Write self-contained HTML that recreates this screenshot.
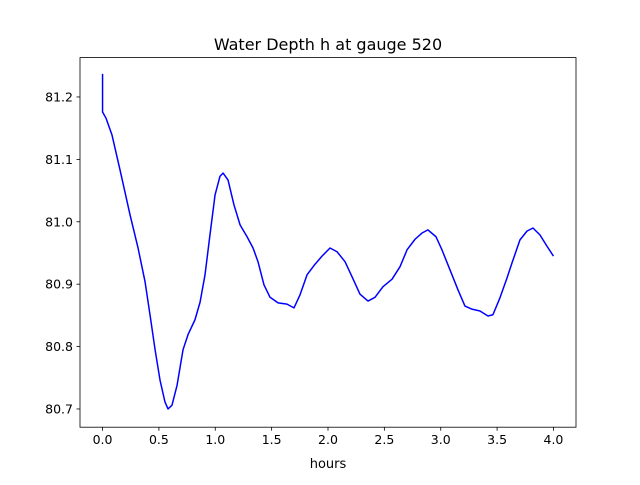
<!DOCTYPE html>
<html><head><meta charset="utf-8"><style>
html,body{margin:0;padding:0;background:#fff;}
svg text{font-family:"DejaVu Sans","Liberation Sans",sans-serif;fill:#000;}
</style></head><body>
<svg id="chart" width="640" height="480" xmlns="http://www.w3.org/2000/svg">
<rect width="640" height="480" fill="#fff"/>
<text x="328" y="50" font-size="16" text-anchor="middle">Water Depth h at gauge 520</text>
<g id="axes"></g>
<text x="328" y="468" font-size="13" text-anchor="middle">hours</text>
</svg>
<script>
const times=[0,0,0.031,0.084,0.155,0.244,0.315,0.377,0.421,0.466,0.510,0.554,0.581,0.616,0.661,0.714,0.758,0.820,0.865,0.909,0.953,0.998,1.042,1.069,1.113,1.166,1.220,1.282,1.335,1.379,1.432,1.486,1.557,1.636,1.698,1.752,1.814,1.885,1.947,2.018,2.080,2.151,2.213,2.284,2.355,2.417,2.488,2.568,2.639,2.701,2.772,2.834,2.887,2.958,3.011,3.082,3.153,3.215,3.277,3.348,3.419,3.463,3.525,3.588,3.632,3.703,3.765,3.818,3.880,3.942,4.0];
const depths=[81.237,81.176,81.166,81.139,81.083,81.011,80.958,80.904,80.851,80.795,80.746,80.711,80.700,80.706,80.738,80.795,80.819,80.843,80.871,80.915,80.979,81.043,81.073,81.078,81.067,81.027,80.995,80.976,80.958,80.936,80.899,80.879,80.870,80.868,80.862,80.883,80.915,80.932,80.945,80.958,80.952,80.936,80.912,80.884,80.873,80.879,80.896,80.908,80.928,80.955,80.972,80.982,80.987,80.976,80.955,80.923,80.891,80.865,80.860,80.857,80.849,80.851,80.878,80.910,80.934,80.971,80.985,80.990,80.979,80.961,80.945];
const xTicks=[0,0.5,1,1.5,2,2.5,3,3.5,4];
const xTickLabels=["0.0","0.5","1.0","1.5","2.0","2.5","3.0","3.5","4.0"];
const yTicks=[80.7,80.8,80.9,81.0,81.1,81.2];
const yTickLabels=["80.7","80.8","80.9","81.0","81.1","81.2"];

const L=80,R=576,T=57.6,B=427.2;
const xmin=-0.2,xmax=4.2;
const ymin=80.6708,ymax=81.2631;
const xs=v=>L+(v-xmin)/(xmax-xmin)*(R-L);
const ys=v=>B-(v-ymin)/(ymax-ymin)*(B-T);
const NS="http://www.w3.org/2000/svg";
const g=document.getElementById('axes');
function mk(tag,attrs){const e=document.createElementNS(NS,tag);for(const k in attrs)e.setAttribute(k,attrs[k]);g.appendChild(e);return e;}

const line=mk('polyline',{points:times.map((t,i)=>xs(t).toFixed(2)+','+ys(depths[i]).toFixed(2)).join(' '),fill:'none',stroke:'#0000ff','stroke-width':1.5,'stroke-linejoin':'round'});



const frame=mk('rect',{x:L,y:T,width:R-L,height:B-T,fill:'none',stroke:'#000','stroke-width':0.8});



xTicks.forEach((v,i)=>{
  const x=xs(v);
  const tk=mk('line',{x1:x,x2:x,y1:B,y2:B+3.5,stroke:'#000','stroke-width':0.8});
  
  
  const tx=mk('text',{x:x,y:B+17,'font-size':12.5,'text-anchor':'middle'});
  tx.textContent=xTickLabels[i];
  
  
});
yTicks.forEach((v,i)=>{
  const y=ys(v);
  const tk=mk('line',{x1:L-3.5,x2:L,y1:y,y2:y,stroke:'#000','stroke-width':0.8});
  
  
  const tx=mk('text',{x:L-7,y:y+4.5,'font-size':12.5,'text-anchor':'end'});
  tx.textContent=yTickLabels[i];
  
  
});
</script>
</body></html>
